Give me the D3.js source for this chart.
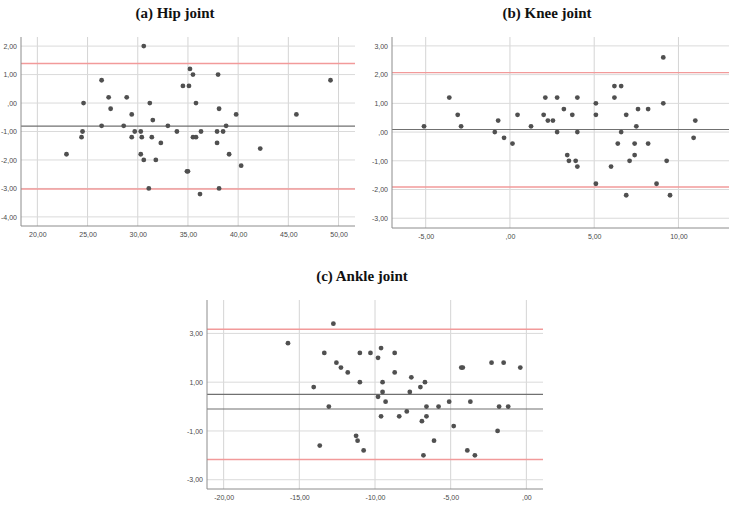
<!DOCTYPE html>
<html>
<meta charset="utf-8">
<script src="https://d3js.org/d3.v7.min.js"></script>
<style>
  body { margin: 0; background: #fff; }
  .title { font-family: "Liberation Serif", "DejaVu Serif", serif; font-weight: bold; font-size: 15px; fill: #111; }
  .tick text { font-family: "Liberation Sans", Arial, sans-serif; font-size: 7px; }
</style>
<body>
<svg id="chart" width="735" height="505"></svg>
<script>
// (a) Hip joint
var hipX = [22.9, 24.4, 24.5, 24.6, 26.4, 26.4, 27.1, 27.3, 28.6, 28.9, 29.4, 29.4, 29.7, 30.3, 30.3, 30.4,
            30.6, 30.6, 31.1, 31.2, 31.4, 31.5, 31.8, 32.3, 33.0, 33.9, 34.5, 34.9, 35.0, 35.1, 35.2,
            35.5, 35.8, 35.5, 35.8, 36.2, 36.3, 37.9, 37.9, 38.0, 38.1, 38.1, 38.5, 38.8, 39.1, 39.8,
            40.3, 42.2, 45.8, 49.2];
var hipY = [-1.8, -1.2, -1.0, 0.0, 0.8, -0.8, 0.2, -0.2, -0.8, 0.2, -0.4, -1.2, -1.0, -1.0, -1.8, -1.2,
            2.0, -2.0, -3.0, 0.0, -1.2, -0.6, -2.0, -1.4, -0.8, -1.0, 0.6, -2.4, -2.4, 0.6, 1.2,
            1.0, 0.0, -1.2, -1.2, -3.2, -1.0, -1.0, -1.4, 1.0, -0.2, -3.0, -1.0, -0.8, -1.8, -0.4,
            -2.2, -1.6, -0.4, 0.8];

// (b) Knee joint
var kneeX = [-5.1, -3.6, -3.1, -2.9, -0.9, -0.7, -0.35, 0.15, 0.45, 1.25, 2.0, 2.1, 2.25, 2.55, 2.8, 2.8,
             3.2, 3.4, 3.5, 3.7, 3.9, 4.0, 4.0, 4.0, 5.1, 5.1, 5.1, 6.0, 6.2, 6.2, 6.4, 6.6, 6.6,
             6.9, 6.9, 7.1, 7.4, 7.4, 7.5, 7.6, 8.2, 8.2, 8.7, 9.1, 9.1, 9.3, 9.5, 10.9, 11.0];
var kneeY = [0.2, 1.2, 0.6, 0.2, 0.0, 0.4, -0.2, -0.4, 0.6, 0.2, 0.6, 1.2, 0.4, 0.4, 1.2, 0.0,
             0.8, -0.8, -1.0, 0.6, -1.0, 1.2, 0.0, -1.2, 1.0, 0.6, -1.8, -1.2, 1.6, 1.2, -0.4, 1.6, 0.0,
             0.6, -2.2, -1.0, -0.4, -0.8, 0.2, 0.8, 0.8, -0.4, -1.8, 2.6, 1.0, -1.0, -2.2, -0.2, 0.4];

// (c) Ankle joint
var ankleX = [-15.75, -14.05, -13.65, -13.35, -13.05, -12.75, -12.55, -12.25, -11.8, -11.25, -11.15, -11.0, -11.0,
              -10.75, -10.3, -9.6, -9.8, -8.7, -8.7, -9.5, -9.5, -9.8, -9.3, -9.6, -8.4, -7.9, -7.7, -7.6,
              -7.0, -6.7, -6.6, -6.6, -6.9, -6.8, -6.1, -5.8, -5.1, -4.8, -4.3, -4.2, -3.9, -3.7, -3.4,
              -2.3, -1.9, -1.8, -1.5, -1.2, -0.4];
var ankleY = [2.6, 0.8, -1.6, 2.2, 0.0, 3.4, 1.8, 1.6, 1.4, -1.2, -1.4, 1.0, 2.2,
              -1.8, 2.2, 2.4, 2.0, 2.2, 1.4, 1.0, 0.6, 0.4, 0.2, -0.4, -0.4, -0.2, 0.6, 1.2,
              0.8, 1.0, 0.0, -0.4, -0.6, -2.0, -1.4, 0.0, 0.2, -0.8, 1.6, 1.6, -1.8, 0.2, -2.0,
              1.8, -1.0, 0.0, 1.8, 0.0, 1.6];

// ticks
var hipXTicks = [20, 25, 30, 35, 40, 45, 50];
var hipYTicks = [-4, -3, -2, -1, 0, 1, 2];
var kneeXTicks = [-5, 0, 5, 10];
var kneeYTicks = [-3, -2, -1, 0, 1, 2, 3];
var ankleXTicks = [-20, -15, -10, -5, 0];
var ankleYTicks = [-3, -1, 1, 3];

// limits of agreement (red) and mean lines (dark)
var hipLimits = [1.39, -3.02], hipMeans = [-0.81];
var kneeLimits = [2.07, -1.91], kneeMeans = [0.09];
var ankleLimits = [3.17, -2.17], ankleMeans = [0.5, -0.1];

var svg = d3.select("#chart");

// SPSS style number: 2,00  ,00  -1,00
function spss(v) {
  if (v === 0) return ",00";
  return d3.format(".2f")(v).replace(".", ",").replace("\u2212", "-");
}

function panel(p) {
  var x = d3.scaleLinear().domain(p.xDom).range([p.left, p.right]);
  var y = d3.scaleLinear().domain(p.yDom).range([p.bottom, p.top]);
  var g = svg.append("g");

  // grid
  g.selectAll(".vg").data(p.xTicks).enter().append("line")
      .attr("x1", d => x(d)).attr("x2", d => x(d))
      .attr("y1", p.top).attr("y2", p.bottom)
      .style("stroke", "#d4d4d4").style("stroke-width", 1);
  g.selectAll(".hg").data(p.yTicks).enter().append("line")
      .attr("x1", p.left).attr("x2", p.right)
      .attr("y1", d => y(d)).attr("y2", d => y(d))
      .style("stroke", "#dadada").style("stroke-width", 1);

  // reference lines
  g.selectAll(".lim").data(p.limits).enter().append("line")
      .attr("x1", p.left).attr("x2", p.right)
      .attr("y1", d => y(d)).attr("y2", d => y(d))
      .style("stroke", "#f29a9a").style("stroke-width", 1.4);
  g.selectAll(".mean").data(p.means).enter().append("line")
      .attr("x1", p.left).attr("x2", p.right)
      .attr("y1", d => y(d)).attr("y2", d => y(d))
      .style("stroke", "#707070").style("stroke-width", 1.1);

  // axes
  var ax = g.append("g").attr("transform", "translate(0," + p.bottom + ")")
      .call(d3.axisBottom(x).tickValues(p.xTicks).tickSize(0).tickPadding(6).tickFormat(spss));
  var ay = g.append("g").attr("transform", "translate(" + p.left + ",0)")
      .call(d3.axisLeft(y).tickValues(p.yTicks).tickSize(0).tickPadding(4).tickFormat(spss));
  [ax, ay].forEach(function(a) {
    a.select(".domain").remove();
    a.selectAll(".tick text").attr("fill", "#4a4a4a");
  });
  g.append("line").attr("x1", p.left).attr("x2", p.left).attr("y1", p.top).attr("y2", p.bottom)
      .style("stroke", "#8c8c8c");
  g.append("line").attr("x1", p.left).attr("x2", p.right).attr("y1", p.bottom).attr("y2", p.bottom)
      .style("stroke", "#8c8c8c");

  // points
  g.selectAll("circle").data(p.xs).enter().append("circle")
      .attr("cx", d => x(d)).attr("cy", (d, i) => y(p.ys[i]))
      .attr("r", 2.4)
      .style("fill", "#505050");

  svg.append("text").attr("class", "title")
      .attr("x", p.tx).attr("y", p.ty).attr("text-anchor", "middle")
      .text(p.title);
}

panel({ title: "(a) Hip joint", tx: 175, ty: 18,
        left: 21, right: 355, top: 37, bottom: 226,
        xDom: [18.37, 51.64], yDom: [-4.32, 2.32],
        xTicks: hipXTicks, yTicks: hipYTicks,
        limits: hipLimits, means: hipMeans, xs: hipX, ys: hipY });

panel({ title: "(b) Knee joint", tx: 547, ty: 18,
        left: 392, right: 729, top: 37, bottom: 228,
        xDom: [-7, 13], yDom: [-3.34, 3.31],
        xTicks: kneeXTicks, yTicks: kneeYTicks,
        limits: kneeLimits, means: kneeMeans, xs: kneeX, ys: kneeY });

panel({ title: "(c) Ankle joint", tx: 362, ty: 281,
        left: 207, right: 543, top: 300, bottom: 489,
        xDom: [-21.1, 1.1], yDom: [-3.38, 4.37],
        xTicks: ankleXTicks, yTicks: ankleYTicks,
        limits: ankleLimits, means: ankleMeans, xs: ankleX, ys: ankleY });
</script>
</body>
</html>
